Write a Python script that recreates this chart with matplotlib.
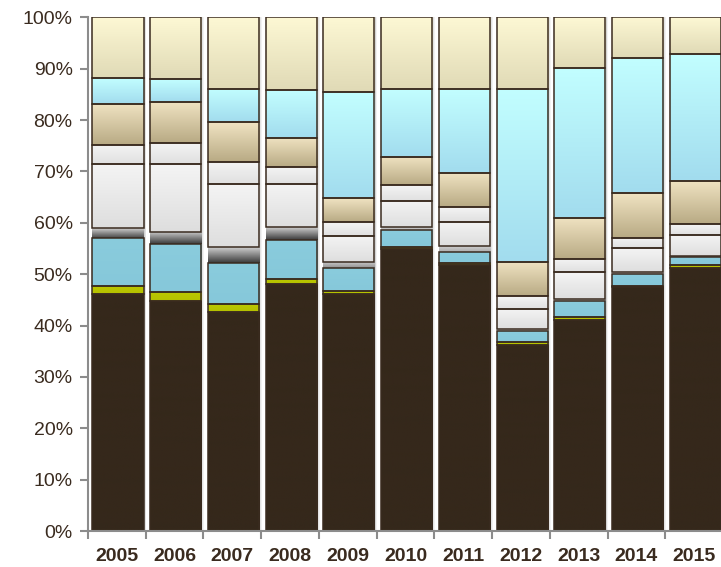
import matplotlib
matplotlib.use("Agg")
import matplotlib.pyplot as plt
import numpy as np
from matplotlib.colors import to_rgb
from matplotlib.ticker import FixedLocator, PercentFormatter

plt.rcParams['font.family'] = ['Liberation Sans', 'DejaVu Sans']

years = ['2005', '2006', '2007', '2008', '2009', '2010', '2011', '2012', '2013', '2014', '2015']

# stacked segments, bottom to top (percent)
dark      = [46.1, 44.8, 42.7, 48.0, 46.2, 54.8, 51.7, 36.2, 41.1, 47.5, 51.2]
lime      = [1.5, 1.7, 1.5, 1.1, 0.6, 0.4, 0.5, 0.5, 0.5, 0.1, 0.5]
blue      = [9.5, 9.4, 8.0, 7.6, 4.4, 3.3, 2.2, 2.2, 3.2, 2.4, 1.6]
shade     = [1.8, 2.4, 3.1, 2.4, 1.2, 0.6, 1.0, 0.4, 0.4, 0.4, 0.2]
white     = [12.6, 13.1, 12.3, 8.5, 5.1, 5.2, 4.8, 3.9, 5.2, 4.6, 4.2]
lightgray = [3.7, 4.2, 4.3, 3.2, 2.7, 3.1, 2.8, 2.5, 2.6, 2.1, 2.1]
tan       = [8.0, 8.0, 7.7, 5.8, 4.6, 5.5, 6.7, 6.7, 8.0, 8.6, 8.4]
cyan      = [5.0, 4.4, 6.5, 9.2, 20.6, 13.2, 16.3, 33.7, 29.2, 26.3, 24.6]
cream     = [11.8, 12.0, 13.9, 14.2, 14.6, 13.9, 14.0, 13.9, 9.8, 8.0, 7.2]

series = [dark, lime, blue, shade, white, lightgray, tan, cyan, cream]
# (top colour, bottom colour, edge?)
styles = [
    ('#35281b', '#35281b', True),
    ('#bcc800', '#b4c000', True),
    ('#8accdd', '#86c8da', True),
    ('#cfcfcf', None, False),
    ('#f4f4f4', '#dedede', True),
    ('#f4f4f4', '#e0e0e0', True),
    ('#f0e3c2', '#b8aa84', True),
    ('#c2feff', '#a2dcee', True),
    ('#fdf8d4', '#e0dab6', True),
]
edge_col = '#3a2b1f'

fig = plt.figure(figsize=(7.21, 5.67), dpi=100)
ax = fig.add_axes([88/721, 1-531/567, (723-88)/721, (531-17.3)/567])

x = np.arange(len(years))
width = 0.885
offset = 0.02
bottom = np.zeros(len(years))

# soft shadow behind bars
totals = np.sum(np.array(series), axis=0)
for dx, a in [(0.05, 0.05), (0.035, 0.06), (0.02, 0.07)]:
    ax.bar(x + offset + dx, totals, width=width, bottom=0, color='#000000',
           alpha=a, linewidth=0, zorder=1)

light_shade = np.array(to_rgb('#b8b8b8'))
dark_shade = np.array(to_rgb('#3a3a3a'))

for vals, (ctop, cbot, has_edge) in zip(series, styles):
    vals = np.array(vals)
    bars = ax.bar(x + offset, vals, width=width, bottom=bottom,
                  facecolor='none',
                  edgecolor=edge_col if has_edge else 'none',
                  linewidth=1.1, zorder=4)
    t = np.array(to_rgb(ctop))
    n = 64
    f = np.linspace(0, 1, n)[:, None]
    for p in bars:
        x0, y0, w, h = p.get_x(), p.get_y(), p.get_width(), p.get_height()
        if h <= 0:
            continue
        if cbot is None:
            k = np.clip((h - 0.9) / 1.0, 0, 1)
            b = light_shade * (1 - k) + dark_shade * k
        else:
            b = np.array(to_rgb(cbot))
        grad = (t * (1 - f) + b * f)[:, None, :]
        ax.imshow(grad, extent=[x0, x0 + w, y0, y0 + h], aspect='auto',
                  origin='upper', interpolation='bilinear', zorder=3)
    bottom = bottom + vals

ax.set_xlim(-0.5, len(years) - 0.5)
ax.set_ylim(0, 100)

ax.yaxis.set_major_locator(FixedLocator(np.arange(0, 101, 10)))
ax.yaxis.set_major_formatter(PercentFormatter(decimals=0))
ax.tick_params(axis='y', length=6, width=1.5, color='#8c8c8c', pad=5,
               labelsize=14, labelcolor='#3a2b1f')

ax.set_xticks(x)
ax.set_xticklabels(years, fontweight='bold')
ax.set_xticks(np.arange(-0.5, len(years), 1), minor=True)
ax.tick_params(axis='x', which='major', length=0, pad=12, labelsize=14,
               labelcolor='#3a2b1f')
ax.tick_params(axis='x', which='minor', length=6, width=1.5, color='#8c8c8c')

for s in ['top', 'right']:
    ax.spines[s].set_visible(False)
for s in ['left', 'bottom']:
    ax.spines[s].set_color('#8c8c8c')
    ax.spines[s].set_linewidth(1.5)
ax.spines['left'].set_zorder(6)
ax.spines['bottom'].set_zorder(6)

fig.savefig('out.png', dpi=100)
